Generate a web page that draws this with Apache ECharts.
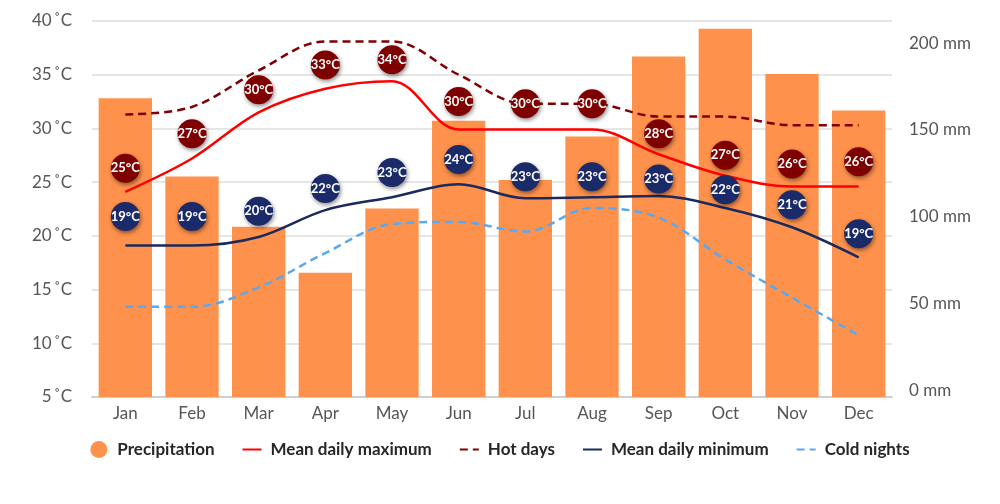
<!DOCTYPE html>
<html>
<head>
<meta charset="utf-8">
<script src="https://cdn.jsdelivr.net/npm/echarts@6/dist/echarts.min.js"></script>
<style>
html,body{margin:0;padding:0;background:#fff;}
#chart{width:1000px;height:504px;}
</style>
</head>
<body>
<div id="chart"></div>
<script>
var months = ['Jan','Feb','Mar','Apr','May','Jun','Jul','Aug','Sep','Oct','Nov','Dec'];
var precipitation = [172, 127, 98, 71.5, 108.5, 159, 125, 150, 196, 212, 186, 165];
var meanMax = [24.1, 27.2, 31.5, 33.7, 34.4, 29.9, 29.9, 29.9, 27.6, 25.6, 24.6, 24.6];
var hotDays = [31.3, 32.0, 35.4, 38.1, 38.1, 35.0, 32.3, 32.3, 31.1, 31.1, 30.3, 30.3];
var meanMin = [19.1, 19.1, 19.9, 22.4, 23.6, 24.8, 23.5, 23.6, 23.7, 22.6, 20.8, 18.0];
var coldNights = [13.4, 13.4, 15.2, 18.4, 21.1, 21.3, 20.4, 22.6, 21.7, 17.8, 14.25, 10.75];
var maxBadgeLabels = [25, 27, 30, 33, 34, 30, 30, 30, 28, 27, 26, 26];
var maxBadgePos = [26.3, 29.5, 33.6, 35.9, 36.4, 32.5, 32.3, 32.3, 29.5, 27.5, 26.7, 26.9];
var minBadgeLabels = [19, 19, 20, 22, 23, 24, 23, 23, 23, 22, 21, 19];
var minBadgePos = [21.8, 21.8, 22.3, 24.4, 25.9, 27.1, 25.5, 25.5, 25.3, 24.3, 22.9, 20.2];
var tempTicks = {min: 5, max: 40, interval: 5};
var rainTicks = {min: 0, max: 216.5, interval: 50};

var FONT = 'Lato, "Noto Sans", sans-serif';
var chart = echarts.init(document.getElementById('chart'));

function badge(name, pos, labels, color) {
  return {
    name: name,
    type: 'scatter',
    yAxisIndex: 0,
    z: 10,
    symbol: 'circle',
    symbolSize: 29,
    data: pos,
    itemStyle: {color: color, shadowBlur: 4, shadowColor: 'rgba(0,0,0,0.45)', shadowOffsetX: 1, shadowOffsetY: 2, opacity: 1},
    label: {
      show: true, position: 'inside', color: '#fff', fontFamily: FONT, fontSize: 13, fontWeight: 'bold',
      formatter: function (p) { return labels[p.dataIndex] + '\u00b0C'; }
    },
    emphasis: {disabled: true},
    silent: true
  };
}

var hideSym = {opacity: 0};

chart.setOption({
  animation: false,
  backgroundColor: '#fff',
  textStyle: {fontFamily: FONT},
  grid: {left: 92, right: 108, top: 21, bottom: 107},
  legend: {
    left: 'center', top: 436, itemGap: 27, itemWidth: 19, itemHeight: 17,
    textStyle: {fontFamily: FONT, fontSize: 17, fontWeight: 'bold', color: '#262626', padding: [0, 0, 0, 4]},
    data: [
      {name: 'Precipitation', icon: 'circle'},
      {name: 'Mean daily maximum', itemStyle: hideSym},
      {name: 'Hot days', itemStyle: hideSym},
      {name: 'Mean daily minimum', itemStyle: hideSym},
      {name: 'Cold nights', itemStyle: hideSym}
    ]
  },
  xAxis: {
    type: 'category', data: months,
    axisLine: {lineStyle: {color: '#cfcfcf', width: 2}},
    axisTick: {show: false},
    axisLabel: {color: '#555', fontSize: 17, fontFamily: FONT, margin: 8}
  },
  yAxis: [
    {
      type: 'value', min: tempTicks.min, max: tempTicks.max, interval: tempTicks.interval,
      axisLine: {show: false}, axisTick: {show: false},
      axisLabel: {color: '#555', fontSize: 17, fontFamily: FONT, margin: 20, formatter: '{value}\u2009\u02daC'},
      splitLine: {lineStyle: {color: '#dedede', width: 1.5}}
    },
    {
      type: 'value', min: rainTicks.min, max: rainTicks.max, interval: rainTicks.interval,
      axisLine: {show: false}, axisTick: {show: false}, splitLine: {show: false},
      axisLabel: {
        color: '#555', fontSize: 17, fontFamily: FONT, margin: 17, verticalAlign: 'bottom', lineHeight: 13,
        formatter: function (v) { return v % 50 === 0 ? v + ' mm' : ''; }
      }
    }
  ],
  series: [
    {
      name: 'Precipitation', type: 'bar', yAxisIndex: 1, data: precipitation,
      barCategoryGap: '20%', itemStyle: {color: '#fe914b'}, z: 1
    },
    {
      name: 'Mean daily maximum', type: 'line', yAxisIndex: 0, data: meanMax,
      smooth: 0.35, symbol: 'none', z: 5,
      lineStyle: {color: '#ff0000', width: 2.5}, itemStyle: {color: '#ff0000'}
    },
    {
      name: 'Hot days', type: 'line', yAxisIndex: 0, data: hotDays,
      smooth: 0.35, symbol: 'none', z: 5,
      lineStyle: {color: '#800000', width: 2.5, type: [8, 5]}, itemStyle: {color: '#800000'}
    },
    {
      name: 'Mean daily minimum', type: 'line', yAxisIndex: 0, data: meanMin,
      smooth: 0.35, symbol: 'none', z: 5,
      lineStyle: {color: '#1b2a5e', width: 2.5}, itemStyle: {color: '#1b2a5e'}
    },
    {
      name: 'Cold nights', type: 'line', yAxisIndex: 0, data: coldNights,
      smooth: 0.35, symbol: 'none', z: 5,
      lineStyle: {color: '#5aa8f0', width: 2.5, type: [8, 5]}, itemStyle: {color: '#5aa8f0'}
    },
    badge('maxBadges', maxBadgePos, maxBadgeLabels, '#7e0000'),
    badge('minBadges', minBadgePos, minBadgeLabels, '#1b2a68')
  ]
});
</script>
</body>
</html>
